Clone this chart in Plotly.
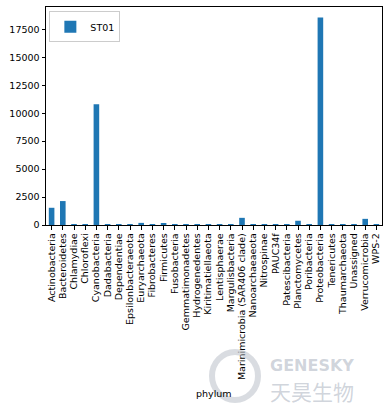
import plotly.graph_objects as go

phylum = ["Actinobacteria", "Bacteroidetes", "Chlamydiae", "Chloroflexi", "Cyanobacteria",
          "Dadabacteria", "Dependentiae", "Epsilonbacteraeota", "Euryarchaeota", "Fibrobacteres",
          "Firmicutes", "Fusobacteria", "Gemmatimonadetes", "Hydrogenedentes", "Kiritimatiellaeota",
          "Lentisphaerae", "Margulisbacteria", "Marinimicrobia (SAR406 clade)", "Nanoarchaeaeota",
          "Nitrospinae", "PAUC34f", "Patescibacteria", "Planctomycetes", "Poribacteria",
          "Proteobacteria", "Tenericutes", "Thaumarchaeota", "Unassigned", "Verrucomicrobia", "WPS-2"]
st01 = [1540, 2140, 5, 80, 10800,
        80, 3, 5, 190, 5,
        90, 3, 3, 5, 60,
        5, 60, 640, 5,
        5, 50, 5, 380, 5,
        18570, 5, 5, 5, 550, 40]
y_ticks = [0, 2500, 5000, 7500, 10000, 12500, 15000, 17500]
y_ticktext = ["0", "2500", "5000", "7500", "10000", "12500", "15000", "17500"]

FONT = "DejaVu Sans"

fig = go.Figure()
fig.add_trace(go.Bar(x=list(range(len(phylum))), y=st01, name="ST01",
                     marker=dict(color="#1f77b4", line=dict(width=0))))

L, R, T, B = 46, 5, 7, 182
W, H = 387, 407
pw, ph = W - L - R, H - T - B

fig.update_layout(
    width=W, height=H,
    margin=dict(l=L, r=R, t=T, b=B, autoexpand=False),
    paper_bgcolor="white", plot_bgcolor="white",
    font=dict(family=FONT, size=9.5, color="black"),
    bargap=0.5,
    showlegend=True,
    legend=dict(x=0.01, y=0.98, xanchor="left", yanchor="top",
                bordercolor="#cccccc", borderwidth=1, bgcolor="rgba(255,255,255,0.8)",
                itemwidth=30, tracegroupgap=0,
                font=dict(family=FONT, size=9.5)),
    xaxis=dict(range=[-0.5, len(phylum) - 0.5], tickmode="array",
               tickvals=list(range(len(phylum))), ticktext=phylum,
               tickangle=-90, ticks="outside", ticklen=3.5, tickcolor="black",
               showline=True, linecolor="black", linewidth=1, mirror=True,
               showgrid=False, zeroline=False, automargin=False),
    yaxis=dict(range=[0, max(st01) * 1.05], tickmode="array", tickvals=y_ticks,
               ticktext=y_ticktext,
               ticks="outside", ticklen=3.5, tickcolor="black",
               showline=True, linecolor="black", linewidth=1, mirror=True,
               showgrid=False, zeroline=False, automargin=False),
)

fig.add_annotation(text="phylum", xref="paper", yref="paper",
                   x=0.5, y=(225 - 393) / ph, xanchor="center", yanchor="middle",
                   showarrow=False, font=dict(family=FONT, size=9.5))

# Watermark
wm = "rgba(150,160,175,0.45)"
fig.add_annotation(text="<b>GENESKY</b>", xref="paper", yref="paper",
                   x=(312 - L) / pw, y=(225 - 365) / ph, xanchor="center", yanchor="middle",
                   showarrow=False, font=dict(family=FONT, size=16, color=wm))
fig.add_annotation(text="天昊生物", xref="paper", yref="paper",
                   x=(312 - L) / pw, y=(225 - 391) / ph, xanchor="center", yanchor="middle",
                   showarrow=False, font=dict(family="Noto Sans CJK SC", size=21, color=wm))
fig.add_shape(type="circle", xref="paper", yref="paper",
              x0=(212 - L) / pw, x1=(258 - L) / pw, y0=(225 - 400) / ph, y1=(225 - 352) / ph,
              line=dict(color="rgba(180,185,195,0.5)", width=6))

fig.write_html("out.html", config={"displayModeBar": False},
               post_script="document.body.style.margin='0';document.body.style.overflow='hidden';")
